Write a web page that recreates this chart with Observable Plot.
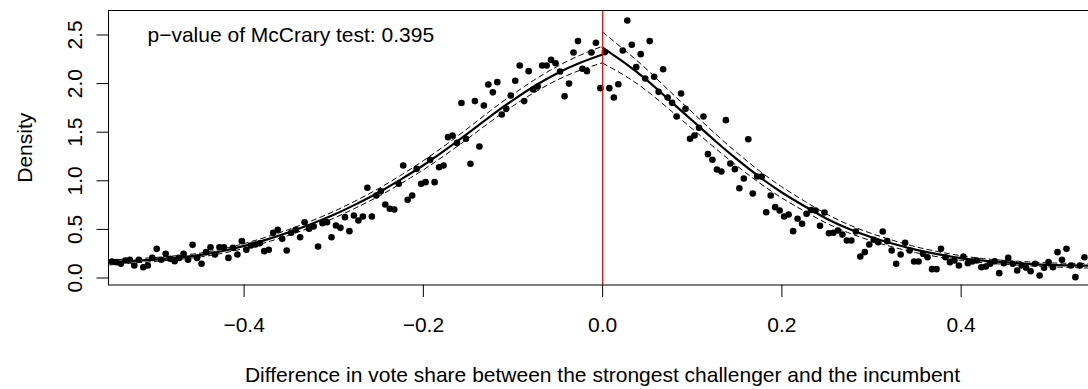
<!DOCTYPE html>
<html><head><meta charset="utf-8">
<script src="https://cdn.jsdelivr.net/npm/d3@7"></script>
<script src="https://cdn.jsdelivr.net/npm/@observablehq/plot@0.6"></script>
<style>html,body{margin:0;padding:0;background:#fff;overflow:hidden}</style>
</head><body><div id="chart"></div>
<script>
// Histogram bin width of the McCrary density plot (bins centred at ±binWidth/2, ±3*binWidth/2, ...)
const binWidth = 0.005;

// Bin densities left of the cut-off, ordered from far left up to the bin next to 0
const leftDensity = [0.17, 0.163, 0.146, 0.18, 0.187, 0.129, 0.187, 0.111, 0.129, 0.207,
  0.30, 0.187, 0.249, 0.197, 0.173, 0.207, 0.249, 0.187, 0.341, 0.207,
  0.146, 0.266, 0.317, 0.242, 0.317, 0.317, 0.207, 0.31, 0.242, 0.379,
  0.29, 0.334, 0.345, 0.358, 0.276, 0.29, 0.465, 0.496, 0.403, 0.283,
  0.465, 0.496, 0.42, 0.574, 0.506, 0.53, 0.324, 0.564, 0.574, 0.42,
  0.54, 0.516, 0.626, 0.482, 0.643, 0.592, 0.633, 0.928, 0.633, 0.849,
  0.893, 0.756, 0.712, 0.705, 0.969, 1.157, 0.804, 0.849, 1.123, 0.969,
  0.986, 1.215, 0.986, 1.14, 1.157, 1.449, 1.466, 1.39, 1.80, 1.432,
  1.175, 1.82, 1.353, 1.775, 1.99, 1.91, 2.015, 1.682, 1.74, 1.878,
  2.03, 2.186, 1.82, 2.128, 1.94, 1.97, 2.186, 2.186, 2.244, 2.21,
  2.125, 1.87, 2.0, 2.32, 2.437, 2.152, 2.128, 2.32, 2.42, 1.953];

// Bin densities right of the cut-off, ordered from the bin next to 0 outwards
const rightDensity = [2.324, 1.953, 1.857, 1.994, 2.341, 2.649, 2.399, 2.169, 2.303, 2.052,
  2.437, 2.07, 1.915, 2.148, 1.857, 1.802, 1.662, 1.898, 1.74, 1.432,
  1.466, 1.545, 1.662, 1.274, 1.216, 1.116, 1.096, 1.624, 1.178, 1.12,
  0.924, 1.024, 1.428, 0.869, 1.044, 1.044, 0.677, 0.849, 0.729, 0.694,
  0.633, 0.653, 0.482, 0.609, 0.557, 0.66, 0.70, 0.694, 0.537, 0.674,
  0.461, 0.465, 0.489, 0.448, 0.386, 0.386, 0.479, 0.221, 0.266, 0.345,
  0.393, 0.369, 0.479, 0.379, 0.283, 0.146, 0.242, 0.362, 0.283, 0.17,
  0.17, 0.249, 0.214, 0.091, 0.091, 0.30, 0.214, 0.163, 0.18, 0.129,
  0.221, 0.153, 0.17, 0.18, 0.111, 0.118, 0.146, 0.173, 0.05, 0.153,
  0.207, 0.146, 0.077, 0.129, 0.105, 0.07, 0.146, 0.026, 0.105, 0.163,
  0.111, 0.266, 0.187, 0.30, 0.129, 0.009, 0.129, 0.214];

// Fitted local-linear density, left of the cut-off
const fitLeftX = [-0.55, -0.525, -0.5, -0.475, -0.45, -0.425, -0.4, -0.375, -0.35, -0.325, -0.3, -0.275,
  -0.25, -0.225, -0.2, -0.175, -0.15, -0.125, -0.1, -0.075, -0.05, -0.025, 0];
const fitLeftY = [0.16, 0.175, 0.19, 0.21, 0.235, 0.275, 0.33, 0.395, 0.47, 0.555, 0.65, 0.76,
  0.88, 1.015, 1.16, 1.32, 1.49, 1.665, 1.83, 1.98, 2.11, 2.215, 2.30];
const fitLeftHalfWidth = [0.025, 0.022, 0.02, 0.02, 0.02, 0.022, 0.025, 0.027, 0.03, 0.032, 0.035, 0.037,
  0.04, 0.043, 0.047, 0.05, 0.053, 0.057, 0.06, 0.065, 0.07, 0.077, 0.085];

// Fitted local-linear density, right of the cut-off
const fitRightX = [0, 0.025, 0.05, 0.075, 0.1, 0.125, 0.15, 0.175, 0.2, 0.225, 0.25, 0.275,
  0.3, 0.325, 0.35, 0.375, 0.4, 0.425, 0.45, 0.475, 0.5, 0.525, 0.55];
const fitRightY = [2.37, 2.21, 2.03, 1.825, 1.62, 1.415, 1.22, 1.04, 0.88, 0.74, 0.61, 0.505,
  0.42, 0.35, 0.29, 0.243, 0.205, 0.178, 0.16, 0.146, 0.135, 0.129, 0.125];
const fitRightHalfWidth = [0.16, 0.13, 0.11, 0.095, 0.085, 0.075, 0.068, 0.062, 0.057, 0.052, 0.047, 0.042,
  0.038, 0.034, 0.03, 0.027, 0.024, 0.022, 0.02, 0.02, 0.02, 0.022, 0.025];

const xTicks = [-0.4, -0.2, 0.0, 0.2, 0.4];
const yTicks = [0.0, 0.5, 1.0, 1.5, 2.0, 2.5];
const cutoff = 0;
const annotation = "p\u2212value of McCrary test: 0.395";
const xTitle = "Difference in vote share between the strongest challenger and the incumbent";
const yTitle = "Density";

// Build tables for the library
const points = [
  ...leftDensity.map((d, i) => ({x: -binWidth / 2 - binWidth * (leftDensity.length - 1 - i), y: d})),
  ...rightDensity.map((d, j) => ({x: binWidth / 2 + binWidth * j, y: d}))
];
const fitLeft = fitLeftX.map((x, i) => ({x, y: fitLeftY[i], lo: fitLeftY[i] - fitLeftHalfWidth[i], hi: fitLeftY[i] + fitLeftHalfWidth[i]}));
const fitRight = fitRightX.map((x, i) => ({x, y: fitRightY[i], lo: fitRightY[i] - fitRightHalfWidth[i], hi: fitRightY[i] + fitRightHalfWidth[i]}));

const fmt = d3.format(".1f");
const FS = 21;

const chart = Plot.plot({
  width: 1088,
  height: 389,
  marginLeft: 108,
  marginRight: -8,
  marginTop: 10,
  marginBottom: 104.5,
  x: {domain: [-0.5513, 0.5510]},
  y: {domain: [-0.072, 2.752]},
  style: {fontFamily: "'Liberation Sans', Arial, Helvetica, sans-serif", fontSize: FS + "px", color: "black", background: "white", overflow: "hidden"},
  marks: [
    Plot.dot(points, {x: "x", y: "y", r: 3.3, fill: "black", stroke: null, clip: true}),
    Plot.line(fitLeft, {x: "x", y: "y", stroke: "black", strokeWidth: 2.2, curve: "natural", clip: true}),
    Plot.line(fitRight, {x: "x", y: "y", stroke: "black", strokeWidth: 2.2, curve: "natural", clip: true}),
    Plot.line(fitLeft, {x: "x", y: "lo", stroke: "black", strokeWidth: 1, strokeDasharray: "5,4", curve: "natural", clip: true}),
    Plot.line(fitLeft, {x: "x", y: "hi", stroke: "black", strokeWidth: 1, strokeDasharray: "5,4", curve: "natural", clip: true}),
    Plot.line(fitRight, {x: "x", y: "lo", stroke: "black", strokeWidth: 1, strokeDasharray: "5,4", curve: "natural", clip: true}),
    Plot.line(fitRight, {x: "x", y: "hi", stroke: "black", strokeWidth: 1, strokeDasharray: "5,4", curve: "natural", clip: true}),
    Plot.ruleX([cutoff], {stroke: "#ff0000", strokeWidth: 1.2}),
    Plot.frame({stroke: "black", strokeWidth: 1}),
    Plot.axisX({ticks: xTicks, tickSize: 12.5, tickPadding: 19.8, tickFormat: fmt, label: null, fontSize: FS, stroke: "black"}),
    Plot.axisY({ticks: yTicks, tickSize: 11.5, tickPadding: 14.8, tickRotate: -90, tickFormat: fmt, label: null, fontSize: FS, stroke: "black"}),
    Plot.text([yTitle], {text: d => d, frameAnchor: "left", dx: -76.3, rotate: -90, textAnchor: "middle", lineAnchor: "bottom", fontSize: FS, fill: "black"}),
    Plot.text([xTitle], {text: d => d, frameAnchor: "bottom", dy: 97.2, textAnchor: "middle", lineAnchor: "bottom", fontSize: FS, fill: "black"}),
    Plot.text([annotation], {text: d => d, frameAnchor: "top-left", dx: 39, dy: 31, textAnchor: "start", lineAnchor: "bottom", fontSize: FS, fill: "black"})
  ]
});
document.getElementById("chart").appendChild(chart);
</script>
</body></html>
